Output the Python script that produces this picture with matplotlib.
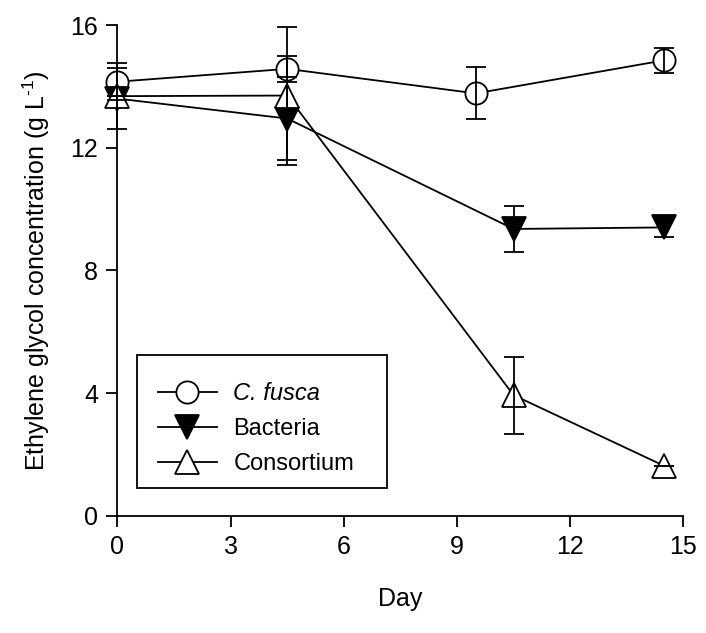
import matplotlib.pyplot as plt
from matplotlib.patches import Rectangle

plt.rcParams["font.family"] = ["Liberation Sans", "DejaVu Sans"]
plt.rcParams["mathtext.fontset"] = "custom"
plt.rcParams["mathtext.rm"] = "Liberation Sans"

# data
fusca_day = [0, 4.5, 9.5, 14.5]
fusca_conc = [14.15, 14.57, 13.77, 14.85]
fusca_err = [0.6, 0.43, 0.85, 0.4]

bacteria_day = [0, 4.5, 10.5, 14.5]
bacteria_conc = [13.6, 12.95, 9.35, 9.4]
bacteria_err = [1.0, 1.35, 0.75, 0.32]

consortium_day = [0, 4.5, 10.5, 14.5]
consortium_conc = [13.68, 13.7, 3.93, 1.62]
consortium_err = [0.0, 2.25, 1.25, 0.0]

X_TICKS = [0, 3, 6, 9, 12, 15]
Y_TICKS = [0, 4, 8, 12, 16]

series = [
	(fusca_day, fusca_conc, fusca_err, "o", "white", 16, "C. fusca"),
	(bacteria_day, bacteria_conc, bacteria_err, "v", "black", 17, "Bacteria"),
	(consortium_day, consortium_conc, consortium_err, "^", "white", 17, "Consortium"),
]

fig = plt.figure(figsize=(7.06, 6.33), dpi=100)
ax = fig.add_axes([0.1664, 0.1853, 0.8015, 0.7752])

for days, conc, err, marker, face, size, label in series:
	ax.plot(
		days, conc, color="black", linewidth=1.3, marker=marker, markersize=size,
		markerfacecolor=face, markeredgecolor="black", markeredgewidth=1.3,
		label=label, zorder=2, clip_on=False,
	)
	ax.errorbar(
		days, conc, yerr=err, fmt="none", ecolor="black", elinewidth=1.3,
		capsize=7, capthick=1.3, zorder=3, clip_on=False,
	)

ax.set_xlim(0, 15)
ax.set_ylim(0, 16)
ax.set_xticks(X_TICKS)
ax.set_yticks(Y_TICKS)
ax.spines["top"].set_visible(False)
ax.spines["right"].set_visible(False)
for side in ("left", "bottom"):
	ax.spines[side].set_linewidth(1.3)
ax.tick_params(direction="out", length=8, width=1.3, labelsize=18, pad=6)

ax.set_xlabel("Day", fontsize=18, labelpad=20)
ax.set_ylabel("Ethylene glycol concentration (g L$^{\\mathregular{\u2010}1}$)", fontsize=18, labelpad=13)

# legend entries without matplotlib's frame, box drawn separately to get the padding right
legend = ax.legend(
	loc="lower left", bbox_to_anchor=(0.0297, 0.034), fontsize=17, frameon=False,
	numpoints=1, handlelength=2.5, handletextpad=0.7, labelspacing=0.55,
	borderpad=1.0, borderaxespad=0,
)
legend.get_texts()[0].set_fontstyle("italic")
legend.set_zorder(5)
ax.add_patch(Rectangle(
	(0.035, 0.0565), 0.4413, 0.271, transform=ax.transAxes, facecolor="white",
	edgecolor="black", linewidth=1.3, zorder=4,
))

fig.savefig("out.png", dpi=100)
